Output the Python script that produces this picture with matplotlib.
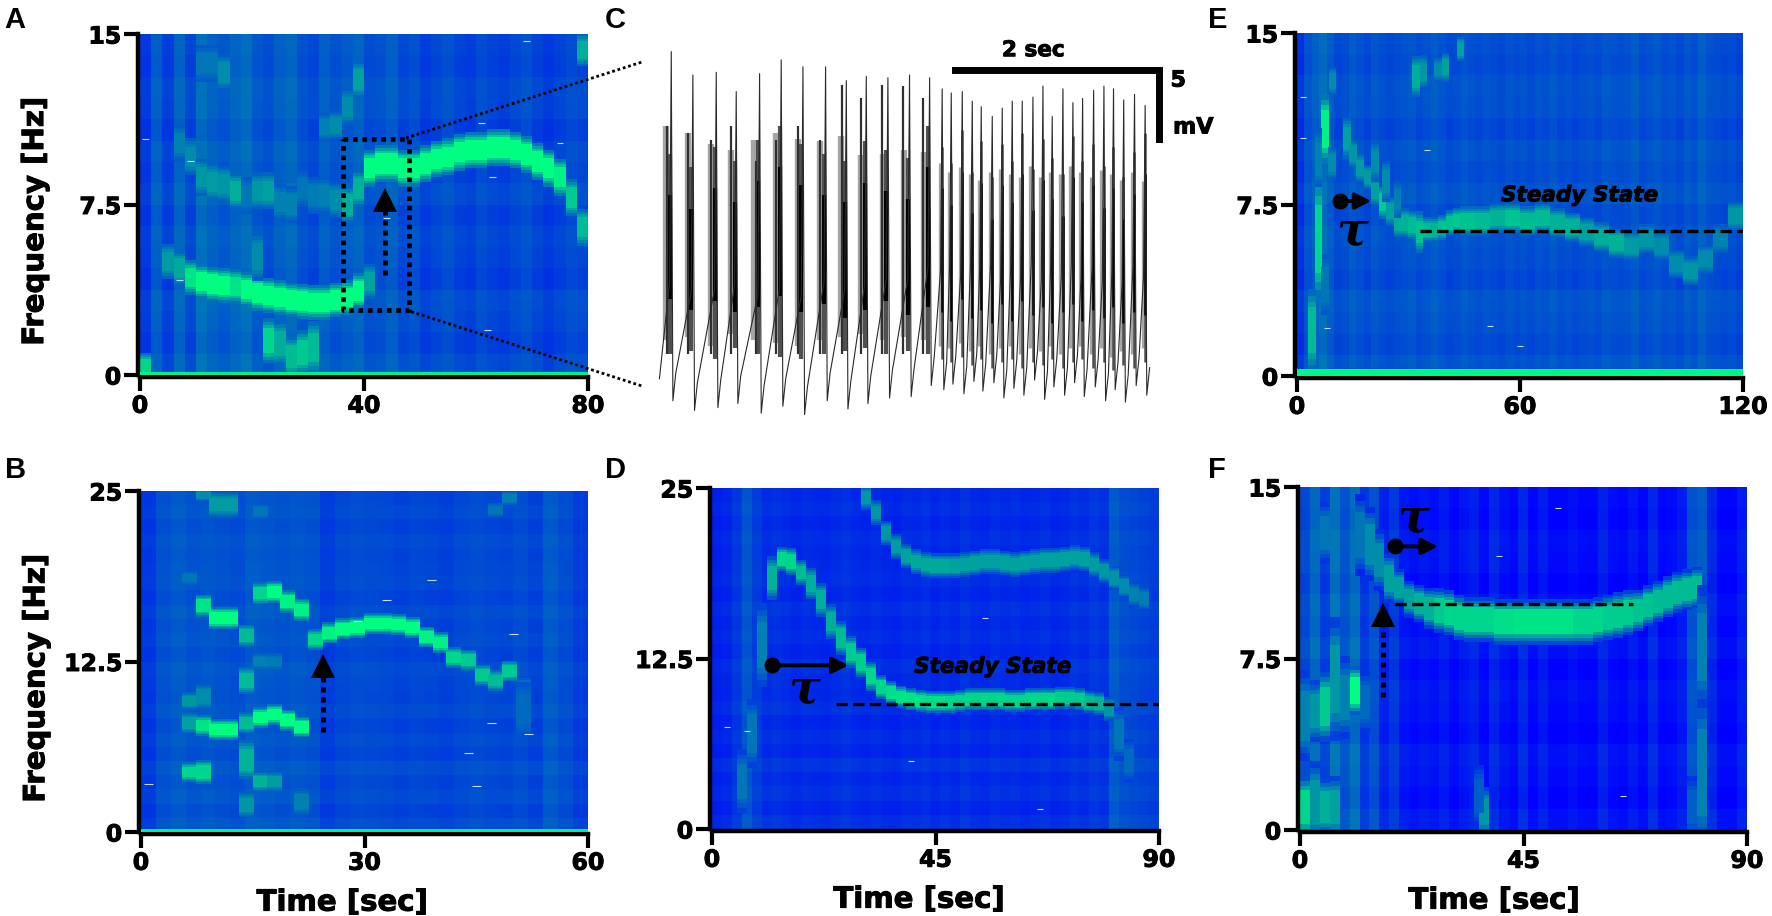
import matplotlib
matplotlib.use('Agg')
import matplotlib.pyplot as plt
from matplotlib.colors import LinearSegmentedColormap
from matplotlib.lines import Line2D
import matplotlib.patheffects as pe
import numpy as np

W, H = 1772, 916

# background per time bin (0 blue .. 1 green), rows add a faint horizontal texture
rows_soft = [0.03, -0.02, 0.01, 0.03, -0.03, 0.0, 0.02, -0.02, 0.03, -0.01, 0.02, -0.03, 0.01, 0.02, -0.02, 0.0]
rows_fine = [0.02, -0.02, 0.02, -0.01, 0.03, -0.02, 0.01, -0.02, 0.02, -0.01, 0.0, 0.02, -0.02, 0.01, -0.01, 0.02,
             -0.02, 0.01, 0.0, -0.01, 0.01, -0.02, 0.01, -0.01]

bg_a = [0.2, 0.35, 0.22, 0.38, 0.25, 0.42, 0.36, 0.32, 0.38, 0.42, 0.32, 0.28, 0.36, 0.4, 0.3, 0.26, 0.36, 0.3, 0.34, 0.38,
        0.28, 0.3, 0.36, 0.26, 0.3, 0.22, 0.26, 0.3, 0.24, 0.22, 0.28, 0.24, 0.22, 0.26, 0.3, 0.24, 0.2, 0.24, 0.28, 0.26]
bg_b = [0.2, 0.3, 0.34, 0.3, 0.32, 0.3, 0.28, 0.34, 0.32, 0.3, 0.32, 0.3, 0.22, 0.26, 0.28, 0.27, 0.26, 0.24, 0.26, 0.25,
        0.23, 0.26, 0.28, 0.26, 0.25, 0.28, 0.24, 0.34, 0.28, 0.22]
bg_d = [0.12, 0.14, 0.2, 0.32, 0.22, 0.16, 0.18, 0.16, 0.14, 0.16, 0.15, 0.14, 0.16, 0.18, 0.15, 0.14, 0.16, 0.14, 0.13, 0.16,
        0.15, 0.17, 0.14, 0.16, 0.14, 0.18, 0.15, 0.14, 0.17, 0.15, 0.16, 0.14, 0.15, 0.17, 0.14, 0.15, 0.18, 0.16, 0.2, 0.18,
        0.34, 0.28, 0.26, 0.24, 0.22]
bg_e = [0.18, 0.3, 0.36, 0.42, 0.34, 0.26, 0.28, 0.34, 0.3, 0.26, 0.32, 0.28, 0.26, 0.28, 0.3, 0.32, 0.27, 0.3, 0.34, 0.3,
        0.26, 0.28, 0.32, 0.29, 0.27, 0.3, 0.28, 0.26, 0.3, 0.27, 0.29, 0.26, 0.3, 0.28, 0.32, 0.27, 0.29, 0.26, 0.28, 0.3,
        0.27, 0.32, 0.3, 0.28, 0.3, 0.34, 0.27, 0.3, 0.33, 0.28, 0.3, 0.26, 0.32, 0.28, 0.36, 0.3, 0.28, 0.26, 0.28, 0.24]
bg_f = [0.26, 0.4, 0.22, 0.44, 0.3, 0.42, 0.2, 0.3, 0.12, 0.2, 0.08, 0.05, 0.08, 0.05, 0.1, 0.03, 0.08, 0.12, 0.03, 0.14,
        0.06, 0.02, 0.14, 0.02, 0.1, 0.02, 0.02, 0.06, 0.02, 0.02, 0.12, 0.04, 0.02, 0.08, 0.02, 0.14, 0.02, 0.04, 0.1, 0.3,
        0.34, 0.14, 0.02, 0.02, 0.1]

# panel A ridges: time [sec], frequency [Hz], strength
a_low_t = [5, 7, 9, 11, 13, 15, 17, 19, 21, 23, 25, 27, 29, 31, 33, 35, 37, 39, 41]
a_low_f = [5.0, 4.7, 4.3, 4.1, 4.0, 3.95, 3.9, 3.75, 3.6, 3.5, 3.4, 3.3, 3.25, 3.2, 3.2, 3.3, 3.4, 3.7, 4.1]
a_low_s = [0.62, 0.68, 0.9, 1.0, 1.0, 1.0, 0.9, 1.0, 1.0, 1.0, 1.0, 1.0, 1.0, 1.0, 1.0, 1.0, 1.0, 1.0, 0.65]
a_up_t = [7, 9, 11, 13, 15, 17, 19, 21, 23, 25, 27, 29, 31, 33, 35, 37, 39, 41, 43, 45, 47, 49, 51, 53, 55, 57, 59, 61, 63,
          65, 67, 69, 71, 73, 75, 77, 79]
a_up_f = [10.2, 9.6, 8.7, 8.5, 8.4, 8.1, 7.9, 8.1, 8.1, 7.6, 7.5, 8.2, 7.9, 7.9, 7.7, 7.5, 8.2, 9.1, 9.3, 9.3, 9.1, 9.1,
          9.3, 9.5, 9.6, 9.8, 9.9, 9.9, 10.0, 10.0, 9.9, 9.7, 9.4, 9.1, 8.7, 7.8, 6.5]
a_up_s = [0.5, 0.55, 0.6, 0.62, 0.6, 0.7, 0.45, 0.6, 0.65, 0.5, 0.5, 0.45, 0.48, 0.5, 0.55, 0.7, 0.72, 1.0, 1.0, 1.0, 1.0,
          1.0, 1.0, 1.0, 1.0, 1.0, 1.0, 1.0, 1.0, 1.0, 1.0, 1.0, 1.0, 1.0, 0.95, 0.8, 0.75]
a_blob_t = [23, 25, 27, 29, 31, 1, 39, 37, 35, 33, 79, 15, 13, 11, 21]
a_blob_f = [1.5, 1.4, 0.8, 1.0, 1.2, 0.35, 13.0, 11.8, 11.0, 10.9, 14.3, 13.3, 13.7, 13.7, 5.2]
a_blob_s = [0.85, 0.7, 0.75, 0.8, 0.75, 0.85, 0.65, 0.55, 0.55, 0.5, 0.7, 0.55, 0.45, 0.45, 0.55]
a_blob_h = [1.1, 1.1, 1.0, 1.1, 1.3, 0.7, 0.9, 0.9, 0.7, 0.7, 0.8, 0.9, 0.9, 0.9, 1.2]

# panel B
b_main_t = [6.5, 8.4, 10.2, 12, 14.2, 16, 17.9, 19.7, 21.6, 23.4, 25.3, 27.1, 29, 30.9, 32.7, 34.6, 36.5, 38.3, 40.2, 42,
            43.9, 45.8, 47.6, 49.5, 51.3]
b_main_f = [8.0, 7.8, 7.5, 7.5, 8.0, 8.4, 8.6, 8.2, 7.7, 14.1, 14.6, 14.9, 15.0, 15.3, 15.3, 15.2, 15.0, 14.3, 13.9, 12.8,
            12.6, 11.5, 11.1, 11.8, 10.5]
b_main_s = [0.65, 0.9, 1.0, 1.0, 0.75, 1.0, 1.0, 1.0, 1.0, 0.85, 0.95, 1.0, 1.0, 1.0, 1.0, 1.0, 1.0, 0.95, 0.95, 0.85,
            0.8, 0.8, 0.75, 0.8, 0.55]
b_up_t = [8.4, 10.2, 12, 14.2, 16, 17.9, 19.7, 21.6]
b_up_f = [16.6, 15.7, 15.7, 14.4, 17.5, 17.6, 16.9, 16.3]
b_up_s = [0.9, 1.0, 1.0, 0.75, 0.85, 1.0, 0.95, 0.95]
b_blob_t = [14.2, 6.5, 8.4, 16, 17.9, 14.2, 8.4, 10.2, 12, 16, 49.5, 47.6, 6.5, 8.4, 14.2, 21.6, 16, 17.9, 51.3, 6.5]
b_blob_f = [11.1, 4.4, 4.4, 3.7, 3.7, 2.0, 24.7, 24.0, 24.0, 23.5, 24.5, 23.6, 9.6, 9.9, 5.3, 2.2, 12.5, 12.5, 9.0, 18.6]
b_blob_s = [0.75, 0.85, 0.85, 0.72, 0.62, 0.6, 0.55, 0.62, 0.62, 0.45, 0.5, 0.45, 0.6, 0.55, 0.72, 0.5, 0.5, 0.48, 0.4, 0.45]
b_blob_h = [1.1, 0.8, 1.0, 0.8, 0.8, 1.0, 0.5, 1.0, 1.0, 0.6, 0.6, 0.6, 0.7, 1.1, 1.6, 1.1, 0.7, 0.7, 2.2, 0.6]

# panel D
d_rise_t = [6, 8, 10, 12, 14, 16, 18, 20, 22, 24, 26, 28, 30, 32, 34, 36, 38, 40, 42, 44, 46, 48, 50, 52, 54, 56, 58, 60,
            62, 64, 66, 68, 70, 72, 74, 76, 78, 80, 82, 84]
d_rise_f = [3.5, 7.0, 13.5, 18.4, 19.8, 19.6, 18.8, 18.0, 16.8, 15.2, 14.0, 13.0, 12.2, 11.2, 10.4, 10.0, 9.7, 9.5, 9.4,
            9.3, 9.3, 9.3, 9.4, 9.5, 9.5, 9.5, 9.5, 9.4, 9.4, 9.5, 9.5, 9.5, 9.6, 9.6, 9.5, 9.3, 9.2, 8.8, 7.0, 5.0]
d_rise_s = [0.45, 0.45, 0.5, 0.72, 0.85, 0.85, 0.75, 0.7, 0.7, 0.7, 0.75, 0.8, 0.82, 0.85, 0.85, 0.88, 0.9, 0.9, 0.9, 0.88,
            0.88, 0.85, 0.85, 0.85, 0.85, 0.85, 0.85, 0.85, 0.85, 0.85, 0.85, 0.85, 0.82, 0.8, 0.8, 0.75, 0.72, 0.6, 0.45, 0.4]
d_rise_h = [2.6, 2.8, 3.4, 1.8, 1.0, 1.1, 1.0, 1.3, 1.4, 1.4, 1.4, 1.3, 1.2, 1.2, 1.0, 0.95, 0.9, 0.9, 0.9, 0.9, 0.9, 0.9,
            0.9, 0.9, 0.9, 0.9, 0.9, 0.9, 0.9, 0.9, 0.9, 0.9, 0.9, 0.9, 0.9, 0.9, 0.9, 1.0, 2.2, 1.8]
d_up_t = [31, 33, 35, 37, 39, 41, 43, 45, 47, 49, 51, 53, 55, 57, 59, 61, 63, 65, 67, 69, 71, 73, 75, 77, 79, 81, 83, 85, 87]
d_up_f = [24.3, 23.2, 21.7, 20.7, 20.0, 19.6, 19.4, 19.3, 19.3, 19.3, 19.4, 19.5, 19.6, 19.6, 19.5, 19.4, 19.5, 19.6, 19.7,
          19.7, 19.8, 19.9, 19.8, 19.4, 18.9, 18.4, 17.8, 17.2, 16.9]
d_up_s = [0.6, 0.6, 0.6, 0.62, 0.65, 0.68, 0.68, 0.68, 0.68, 0.65, 0.65, 0.65, 0.65, 0.65, 0.65, 0.65, 0.65, 0.65, 0.65,
          0.65, 0.65, 0.65, 0.65, 0.62, 0.6, 0.58, 0.55, 0.5, 0.48]

# panel E
e_decay_t = [7.5, 9.5, 13.4, 15, 17, 19, 21, 23, 25, 27, 29, 31, 33, 35, 37, 39, 41, 43]
e_decay_f = [10.8, 12.9, 10.4, 9.7, 9.1, 8.7, 8.1, 7.6, 7.2, 6.7, 6.7, 6.6, 6.3, 6.4, 6.4, 6.5, 6.7, 6.8]
e_decay_s = [0.95, 0.55, 0.65, 0.6, 0.62, 0.62, 0.65, 0.8, 0.65, 0.7, 0.72, 0.75, 0.78, 0.75, 0.72, 0.78, 0.78, 0.8]
e_decay_h = [1.7, 0.7, 1.0, 0.7, 0.7, 0.6, 0.7, 0.8, 0.7, 0.7, 0.7, 0.7, 1.0, 0.6, 0.6, 0.6, 0.6, 0.6]
e_late_t = [46, 50, 54, 58, 62, 66, 70, 74, 78, 82, 86, 90, 94, 98, 102, 106, 110, 114, 118]
e_late_f = [6.8, 6.8, 6.9, 6.9, 6.8, 6.9, 6.7, 6.5, 6.3, 6.1, 5.8, 5.7, 6.0, 5.7, 4.9, 4.6, 5.1, 6.0, 7.0]
e_late_s = [0.78, 0.75, 0.72, 0.78, 0.75, 0.75, 0.72, 0.72, 0.65, 0.7, 0.72, 0.62, 0.6, 0.55, 0.55, 0.6, 0.55, 0.5, 0.6]
e_blob_t = [5.8, 4, 32, 34, 38, 40, 44, 9.4, 21, 24, 27, 5.8, 7.5]
e_blob_f = [6.0, 2.0, 13.1, 13.3, 13.4, 13.5, 14.3, 9.3, 9.4, 8.5, 7.7, 9.5, 4.0]
e_blob_s = [0.85, 0.75, 0.7, 0.6, 0.55, 0.65, 0.65, 0.55, 0.55, 0.55, 0.5, 0.5, 0.45]
e_blob_h = [3.0, 2.0, 1.0, 0.8, 0.6, 0.7, 0.6, 0.8, 1.0, 1.0, 0.9, 1.5, 1.5]

# panel F
f_ridge_t = [12, 14, 16, 18, 20, 22, 24, 26, 28, 30, 32, 34, 36, 38, 40, 42, 44, 46, 48, 50, 52, 54, 56, 58, 60, 62, 64,
             66, 68, 70, 72, 74, 76, 78, 80]
f_ridge_f = [12.9, 12.5, 11.8, 11.0, 10.6, 10.1, 9.9, 9.7, 9.6, 9.5, 9.3, 9.2, 9.2, 9.2, 9.1, 9.1, 9.1, 9.1, 9.1, 9.1, 9.1,
             9.1, 9.1, 9.1, 9.2, 9.3, 9.4, 9.5, 9.6, 9.8, 10.0, 10.2, 10.4, 10.5, 10.6]
f_ridge_s = [0.45, 0.55, 0.55, 0.65, 0.65, 0.65, 0.72, 0.72, 0.8, 0.85, 0.85, 0.85, 0.85, 0.85, 0.88, 0.88, 0.9, 0.9, 0.9,
             0.9, 0.9, 0.9, 0.85, 0.85, 0.85, 0.82, 0.82, 0.82, 0.78, 0.78, 0.75, 0.75, 0.75, 0.75, 0.75]
f_ridge_h = [2.0, 1.8, 1.5, 1.2, 0.9, 0.9, 0.9, 1.0, 1.1, 1.1, 1.1, 1.1, 1.1, 1.1, 1.1, 1.1, 1.1, 1.1, 1.1, 1.1, 1.1, 1.1,
             1.1, 1.1, 1.1, 1.1, 1.1, 1.1, 1.0, 1.0, 1.0, 1.0, 1.0, 1.0, 1.0]
f_blob_t = [1, 3, 5, 7, 5, 7, 11, 9, 1, 37, 81, 81, 3, 13, 5, 79, 36]
f_blob_f = [1.0, 1.2, 5.4, 6.6, 1.0, 1.0, 6.1, 5.8, 5.0, 0.8, 2.5, 8.0, 5.2, 5.6, 13.0, 1.0, 1.5]
f_blob_s = [0.85, 0.6, 0.8, 0.6, 0.7, 0.65, 1.0, 0.5, 0.5, 0.6, 0.5, 0.5, 0.6, 0.4, 0.45, 0.35, 0.35]
f_blob_h = [1.5, 2.0, 1.7, 3.0, 1.4, 1.5, 1.2, 2.0, 2.2, 1.2, 3.8, 3.0, 1.5, 1.5, 1.5, 1.5, 1.5]

# white specks left by the export: time [sec], frequency [Hz]
specks_a = [(1, 10.4), (9, 9.4), (7, 4.2), (44, 6.9), (69, 14.7), (61, 11.1), (75, 10.2), (63, 8.7), (62, 2.0)]
specks_b = [(1, 3.5), (39, 18.5), (33, 17), (29, 15.5), (50, 14.5), (47, 8.0), (52, 7.2), (44, 5.8), (45, 3.4)]
specks_d = [(3, 7.5), (7, 7.2), (40, 5.0), (55, 15.5), (66, 1.5)]
specks_e = [(1.5, 12.2), (1.5, 10.4), (35, 9.9), (8, 2.1), (52, 2.2), (60, 1.3)]
specks_f = [(52, 14.1), (65, 1.5), (40, 12.0)]

# panel C trace: spike times [sec], peaks and troughs [mV]
spike_t = [0.134, 0.346, 0.575, 0.771, 1.0, 1.212, 1.425, 1.647, 1.85, 2.046, 2.258, 2.47, 2.667, 2.79, 2.879, 2.987, 3.085,
           3.173, 3.281, 3.379, 3.477, 3.575, 3.68, 3.778, 3.869, 3.974, 4.072, 4.167, 4.275, 4.376, 4.47, 4.57, 4.676, 4.78]
spike_peak = [25.9, 24.2, 24.4, 23.0, 24.3, 25.3, 24.8, 24.8, 23.8, 24.1, 24.0, 24.2, 24.0, 23.2, 22.9, 23.0, 22.3, 21.9,
              21.2, 21.8, 22.3, 22.3, 22.6, 23.4, 21.2, 23.2, 22.2, 22.5, 23.1, 23.4, 23.2, 22.4, 22.8, 22.0]
spike_trough = [1.2, 0.5, 0.7, 1.0, 0.3, 0.8, 0.2, 1.2, 0.6, 1.0, 1.4, 1.5, 2.3, 2.0, 2.4, 1.7, 2.6, 1.9, 2.5, 1.4, 2.1, 1.6,
                2.7, 1.3, 2.2, 1.6, 2.5, 1.5, 2.2, 1.2, 2.0, 1.1, 2.3, 1.6]
burst_pre_t = [0.09, 0.29, 0.52, 0.72, 0.96, 1.16, 1.37, 1.59, 1.8, 1.99, 2.2, 2.4, 2.6]
burst_pre_peak = [20.5, 20.0, 19.5, 20.5, 18.0, 19.5, 20.5, 19.5, 23.5, 22.5, 23.5, 23.4, 22.5]
grey_top = [20.5, 20.0, 19.2, 18.8, 19.5, 20.0, 19.6, 19.4, 19.8, 18.4, 18.5, 18.8, 18.6, 17.8, 17.2, 17.5, 17.0, 16.6,
            17.2, 17.4, 17.0, 16.8, 17.6, 16.8, 17.2, 17.0, 17.6, 17.2, 16.8, 17.3, 17.0, 16.6, 17.2, 16.5]
grey_bottom = [5.0, 5.2, 4.6, 5.4, 5.0, 4.8, 4.6, 5.0, 5.2, 5.4, 5.0, 5.2, 5.0, 4.6, 4.4, 4.8, 4.2, 4.6, 4.0, 4.4, 4.6, 4.0,
               4.4, 4.2, 4.6, 4.0, 4.4, 4.6, 4.0, 4.4, 3.8, 4.2, 4.0, 4.4]
black_top = [15.5, 14.5, 16.0, 15.0, 16.5, 17.5, 16.2, 15.5, 15.0, 16.4, 15.8, 15.2, 17.5, 16.0, 14.8, 17.2, 14.2, 16.4,
             13.8, 16.2, 15.0, 17.0, 14.4, 16.6, 15.2, 14.0, 16.8, 15.0, 16.2, 14.6, 16.0, 13.8, 15.6, 17.0]
black_bottom = [8.0, 7.2, 7.8, 7.0, 7.4, 8.2, 7.0, 7.6, 6.6, 7.2, 7.8, 6.8, 7.4, 7.0, 6.4, 8.0, 6.6, 7.2, 6.2, 7.6, 6.4, 7.8,
                6.8, 7.4, 6.2, 7.0, 7.6, 6.4, 7.2, 6.6, 7.4, 6.2, 7.0, 6.8]

cmap = LinearSegmentedColormap.from_list('spec', [(0.0, (0, 0, 1)), (0.25, (0, 0.28, 0.84)), (0.45, (0, 0.46, 0.72)),
                                                  (0.7, (0, 0.68, 0.6)), (1.0, (0, 1, 0.5))])
layers = [(1.8, 0.25), (1.5, 0.5), (1.25, 0.75), (1.0, 1.0)]
heavy = [pe.withStroke(linewidth=0.7, foreground='k')]


def px_axes(fig, left, right, top, bottom):
  return fig.add_axes([left/W, 1-bottom/H, (right-left)/W, (bottom-top)/H])


def draw_ridge(ax, t, f, s, h, dt=2.0, base=0.28):
  t, f, s = np.array(t, float), np.array(f, float), np.array(s, float)
  h = np.broadcast_to(np.array(h, float), t.shape)
  for scale, k in layers:
    ax.bar(t, h*scale, bottom=f-h*scale/2, width=dt+0.02, linewidth=0, antialiased=False,
           color=cmap(base+(s-base)*k), zorder=2)


def spectro(fig, box, bg, rows, xmax, ymax, xticks, yticks, ylabs, xlabel_x=None, ylabel=False):
  ax = px_axes(fig, *box)
  z = np.add.outer(np.array(rows), np.array(bg))
  ax.imshow(z, cmap=cmap, vmin=0, vmax=1, aspect='auto', interpolation='nearest', origin='lower',
            extent=(0, xmax, 0, ymax), zorder=1)
  ax.set_xlim(0, xmax)
  ax.set_ylim(0, ymax)
  for side in ['top', 'right']:
    ax.spines[side].set_visible(False)
  for side in ['left', 'bottom']:
    ax.spines[side].set_linewidth(3.2)
    ax.spines[side].set_position(('outward', 1.5))
  ax.set_xticks(xticks)
  ax.set_yticks(yticks)
  ax.set_yticklabels(ylabs)
  ax.tick_params(length=10, width=3.0, labelsize=17, pad=2)
  for lab in ax.get_xticklabels()+ax.get_yticklabels():
    lab.set_fontweight('bold')
    lab.set_path_effects(heavy)
  if xlabel_x is not None:
    ax.set_xlabel('Time [sec]', fontsize=21, fontweight='bold', labelpad=10, x=xlabel_x, path_effects=heavy)
  if ylabel:
    ax.set_ylabel('Frequency [Hz]', fontsize=21, fontweight='bold', path_effects=heavy)
    ax.yaxis.set_label_coords(-0.203, 0.45)
  return ax


def add_specks(ax, specks, dx):
  ts = np.array([p[0] for p in specks])
  fs = np.array([p[1] for p in specks])
  ax.hlines(fs, ts-dx, ts+dx, color='#c8d8f0', lw=0.8, zorder=3)


def up_arrow(ax, x, y0, y1):
  ax.plot([x, x], [y0, y1], color='k', lw=3.6, ls=(0, (1, 1)), zorder=5)
  ax.plot([x], [y1], marker='^', ms=17, color='k', mew=0, zorder=5)


def tau_arrow(ax, x0, x1, y, tx, ty, fs=34):
  ax.plot([x0], [y], marker='o', ms=11.5, color='k', mew=0, zorder=5)
  ax.annotate('', xy=(x1, y), xytext=(x0, y), zorder=5,
              arrowprops=dict(arrowstyle='-|>', lw=2.8, color='k', mutation_scale=24, shrinkA=0, shrinkB=0))
  ax.text(tx, ty, 'τ', fontsize=fs, family='DejaVu Serif', style='italic', fontweight='bold',
          ha='center', va='center', zorder=5)


fig = plt.figure(figsize=(W/100, H/100), dpi=100, facecolor='white')

# A
ax_a = spectro(fig, (140, 588, 34, 375), bg_a, rows_soft, 80, 15, [0, 40, 80], [0, 7.5, 15], ['0', '7.5', '15'], ylabel=True)
draw_ridge(ax_a, a_low_t, a_low_f, a_low_s, 0.85)
draw_ridge(ax_a, a_up_t, a_up_f, a_up_s, 0.9)
draw_ridge(ax_a, a_blob_t, a_blob_f, a_blob_s, a_blob_h)
ax_a.bar(40, 0.14, width=80, color=cmap(0.95), linewidth=0, zorder=3)
add_specks(ax_a, specks_a, 0.6)
ax_a.plot([36.3, 48, 48, 36.3, 36.3], [10.4, 10.4, 2.85, 2.85, 10.4], color='k', lw=3.4, ls=(0, (1, 1)), zorder=5)
up_arrow(ax_a, 43.8, 4.4, 7.7)

# B
ax_b = spectro(fig, (141, 588, 491, 832), bg_b, rows_fine, 60, 25, [0, 30, 60], [0, 12.5, 25], ['0', '12.5', '25'],
               xlabel_x=0.45, ylabel=True)
draw_ridge(ax_b, b_main_t, b_main_f, b_main_s, 0.85)
draw_ridge(ax_b, b_up_t, b_up_f, b_up_s, 0.9)
draw_ridge(ax_b, b_blob_t, b_blob_f, b_blob_s, b_blob_h)
ax_b.bar(30, 0.22, width=60, color=cmap(0.95), linewidth=0, zorder=3)
add_specks(ax_b, specks_b, 0.6)
up_arrow(ax_b, 24.4, 7.3, 12.2)

# D
ax_d = spectro(fig, (712, 1159, 488, 829), bg_d, rows_fine, 90, 25, [0, 45, 90], [0, 12.5, 25], ['0', '12.5', '25'], xlabel_x=0.463)
draw_ridge(ax_d, d_rise_t, d_rise_f, d_rise_s, d_rise_h, base=0.16)
draw_ridge(ax_d, d_up_t, d_up_f, d_up_s, 1.0, base=0.16)
add_specks(ax_d, specks_d, 0.6)
ax_d.plot([25, 90], [9.15, 9.15], color='k', lw=2.4, ls=(0, (3.4, 1.6)), zorder=5)
tau_arrow(ax_d, 12, 27.5, 12.0, 18.5, 10.2)
ax_d.text(56.5, 11.9, 'Steady State', fontsize=15.5, fontweight='bold', style='italic', ha='center', va='center', zorder=5,
          path_effects=heavy)

# E
ax_e = spectro(fig, (1297, 1743, 33, 376), bg_e, rows_soft, 120, 15, [0, 60, 120], [0, 7.5, 15], ['0', '7.5', '15'])
draw_ridge(ax_e, e_decay_t, e_decay_f, e_decay_s, e_decay_h)
draw_ridge(ax_e, e_late_t, e_late_f, e_late_s, 0.7, dt=4)
draw_ridge(ax_e, e_blob_t, e_blob_f, e_blob_s, e_blob_h)
ax_e.bar(60, 0.32, width=120, color=cmap(0.97), linewidth=0, zorder=3)
add_specks(ax_e, specks_e, 0.8)
ax_e.plot([33, 120], [6.35, 6.35], color='k', lw=2.4, ls=(0, (3.4, 1.6)), zorder=5)
tau_arrow(ax_e, 11.6, 20, 7.65, 14.9, 6.3)
ax_e.text(76, 7.9, 'Steady State', fontsize=15.5, fontweight='bold', style='italic', ha='center', va='center', zorder=5,
          path_effects=heavy)

# F
ax_f = spectro(fig, (1300, 1747, 487, 830), bg_f, rows_soft, 90, 15, [0, 45, 90], [0, 7.5, 15], ['0', '7.5', '15'], xlabel_x=0.434)
draw_ridge(ax_f, f_ridge_t, f_ridge_f, f_ridge_s, f_ridge_h, base=0.03)
draw_ridge(ax_f, f_blob_t, f_blob_f, f_blob_s, f_blob_h, base=0.1)
add_specks(ax_f, specks_f, 0.6)
ax_f.plot([19.1, 67], [9.9, 9.9], color='k', lw=2.4, ls=(0, (3.4, 1.6)), zorder=5)
up_arrow(ax_f, 16.7, 5.8, 9.4)
tau_arrow(ax_f, 19.1, 27.8, 12.4, 22.7, 13.6)

# C
ax_c = px_axes(fig, 650, 1200, 40, 415)
ax_c.set_xlim((650-658)/102, (1200-658)/102)
ax_c.set_ylim((409-415)/13.8, (409-40)/13.8)
ax_c.axis('off')
spike_t_arr = np.array(spike_t)
n_burst = len(burst_pre_t)
# grey and black bodies of each burst, left of the peak
for idx, off_grey, off_dark, lw_grey, lw_dark in [(np.arange(n_burst), 0.055, 0.02, 4.6, 3.0),
                                                  (np.arange(n_burst, len(spike_t)), 0.03, 0.008, 2.4, 1.8)]:
  ts = spike_t_arr[idx]
  ax_c.vlines(ts-off_grey, np.array(grey_bottom)[idx], np.array(grey_top)[idx], color='#a6a6a6', lw=lw_grey, zorder=1)
  ax_c.vlines(ts-off_dark, np.array(grey_bottom)[idx]-1, np.array(black_top)[idx]+3, color='#505050', lw=lw_dark, zorder=2)
  ax_c.vlines(ts-off_dark, np.array(black_bottom)[idx], np.array(black_top)[idx], color='k', lw=lw_dark, zorder=3)
ax_c.vlines(burst_pre_t, 4.0, burst_pre_peak, color='#303030', lw=1.6, zorder=3)
# trace itself: trough, slow rise, spike
tx = [spike_t[0]-0.12]
ty = [2.2]
for i in range(len(spike_t)):
  tx += [spike_t[i]-0.02, spike_t[i]-0.004, spike_t[i]+0.012, spike_t[i]+0.04]
  ty += [spike_trough[i]+8, spike_peak[i], spike_trough[i]-0.6, spike_trough[i]+1.4]
ax_c.plot(tx, ty, color='#2a2a2a', lw=0.8, zorder=4)
# scale bar
ax_c.plot([2.91, 4.91, 4.91], [24.6, 24.6, 19.6], color='k', lw=5, solid_joinstyle='miter', zorder=5)
ax_c.text(3.68, 26.0, '2 sec', fontsize=15.5, fontweight='bold', ha='center', va='center', path_effects=heavy)
ax_c.text(5.1, 23.8, '5', fontsize=16, fontweight='bold', ha='center', va='center', path_effects=heavy)
ax_c.text(5.05, 20.4, 'mV', fontsize=16, fontweight='bold', ha='left', va='center', path_effects=heavy)

# zoom lines from the box in A to the trace
zoom_x = [406, 642]
zoom_top_y = [138, 62]
zoom_bot_y = [310, 386]
for ys in (zoom_top_y, zoom_bot_y):
  fig.add_artist(Line2D([x/W for x in zoom_x], [1-y/H for y in ys], transform=fig.transFigure,
                        color='k', lw=2.0, ls=(0, (1, 1)), zorder=6))

# panel letters
letters = ['A', 'B', 'C', 'D', 'E', 'F']
letter_x = [4, 5, 605, 605, 1208, 1208]
letter_y = [28, 478, 28, 478, 28, 478]
for lab, lx, ly in zip(letters, letter_x, letter_y):
  fig.text(lx/W, 1-ly/H, lab, fontsize=21, fontweight='bold', family='Liberation Sans', ha='left', va='baseline')

fig.savefig('out.png', dpi=100)
